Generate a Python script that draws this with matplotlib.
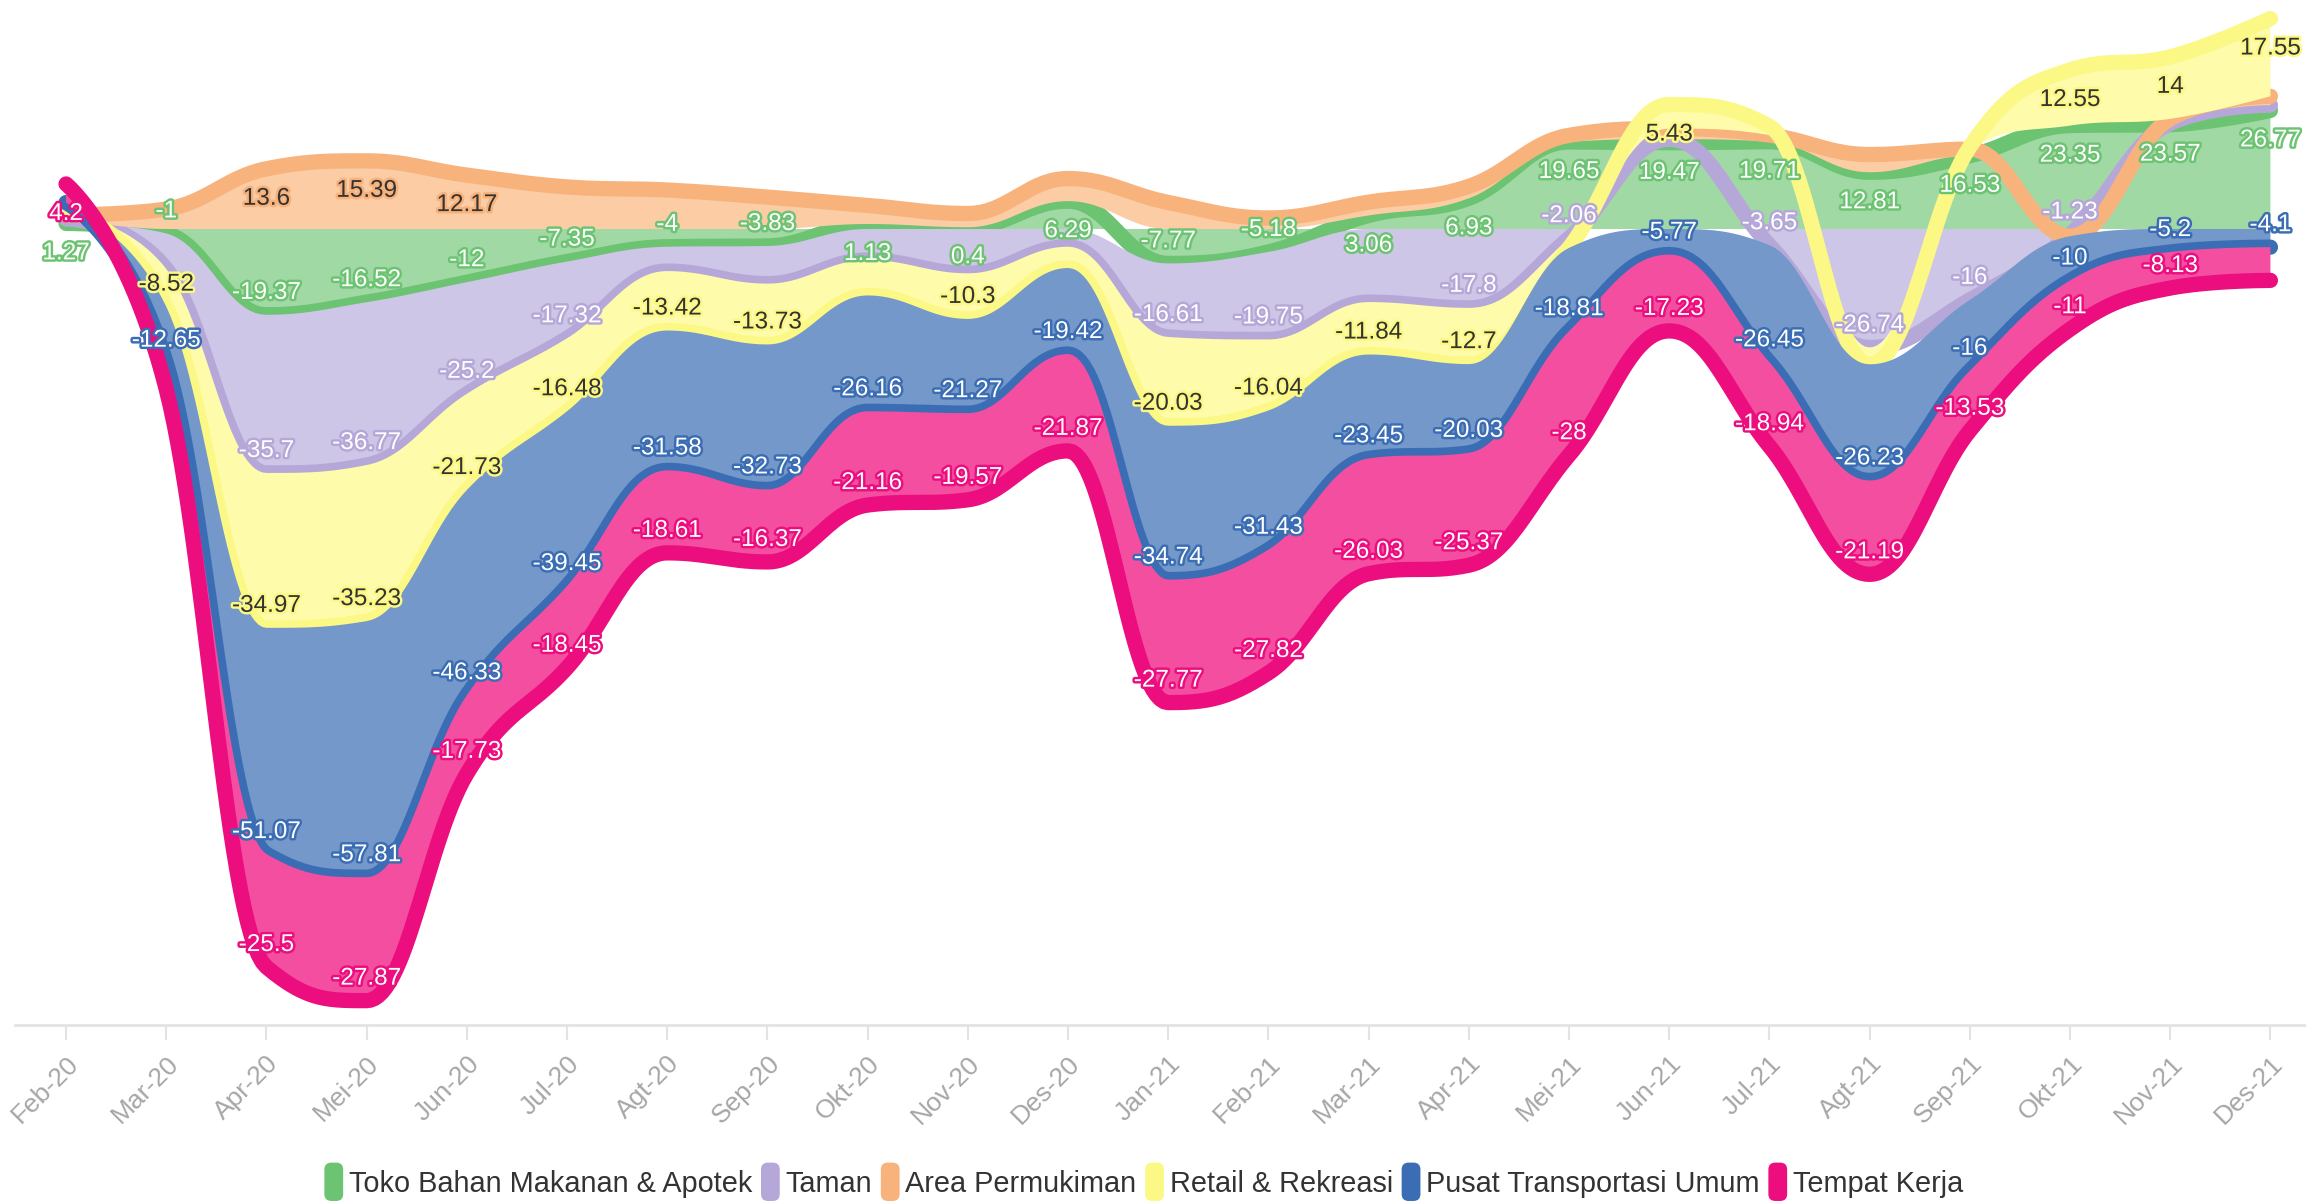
import matplotlib
matplotlib.use('Agg')
import matplotlib.pyplot as plt
import matplotlib.patheffects as pe
import numpy as np
from matplotlib.patches import FancyBboxPatch, Patch
from matplotlib.legend_handler import HandlerPatch

plt.rcParams['font.family'] = ['Liberation Sans Narrow', 'Liberation Sans', 'DejaVu Sans']

months = ['Feb-20', 'Mar-20', 'Apr-20', 'Mei-20', 'Jun-20', 'Jul-20', 'Agt-20', 'Sep-20',
          'Okt-20', 'Nov-20', 'Des-20', 'Jan-21', 'Feb-21', 'Mar-21', 'Apr-21', 'Mei-21',
          'Jun-21', 'Jul-21', 'Agt-21', 'Sep-21', 'Okt-21', 'Nov-21', 'Des-21']

toko = [1.27, -1, -19.37, -16.52, -12, -7.35, -4, -3.83, 1.13, 0.4, 6.29, -7.77,
        -5.18, 3.06, 6.93, 19.65, 19.47, 19.71, 12.81, 16.53, 23.35, 23.57, 26.77]
taman = [1.0, -8, -35.7, -36.77, -25.2, -17.32, -5.5, -8.5, -7, -10, -4, -16.61,
         -19.75, -16.5, -17.8, -2.06, 0.8, -3.65, -26.74, -16, -1.23, 0.3, 1.2]
permukiman = [0.9, 4.5, 13.6, 15.39, 12.17, 9.5, 8.8, 7.2, 4.2, 3.1, 5.1, 6,
              2.5, 3, 2.7, 1.5, 2.4, 1.5, 4, 1.5, -0.4, 1.0, 2.0]
retail = [1.2, -8.52, -34.97, -35.23, -21.73, -16.48, -13.42, -13.73, -8, -10.3, -4.8, -20.03,
          -16.04, -11.84, -12.7, -2.2, 5.43, 2, -3.8, 0.5, 12.55, 14, 17.55]
transportasi = [1.6, -12.65, -51.07, -57.81, -46.33, -39.45, -31.58, -32.73, -26.16, -21.27, -19.42, -34.74,
                -31.43, -23.45, -20.03, -18.81, -5.77, -26.45, -26.23, -16, -10, -5.2, -4.1]
kerja = [4.2, -6, -25.5, -27.87, -17.73, -18.45, -18.61, -16.37, -21.16, -19.57, -21.87, -27.77,
         -27.82, -26.03, -25.37, -28, -17.23, -18.94, -21.19, -13.53, -11, -8.13, -7.5]

names = ['Toko Bahan Makanan & Apotek', 'Taman', 'Area Permukiman', 'Retail & Rekreasi',
         'Pusat Transportasi Umum', 'Tempat Kerja']
series = [toko, taman, permukiman, retail, transportasi, kerja]
line_colors = ['#6cc372', '#b5a8d8', '#f8b27c', '#fcf885', '#3b6db4', '#ec0d7f']
fill_colors = ['#a1d9a4', '#cec6e6', '#fccca4', '#fefcab', '#7398c9', '#f44ea1']
text_colors = ['white', 'white', '#333333', '#333333', 'white', 'white']

# labels that the original chart hides (overlap)
hidden = [[], [0, 1, 6, 7, 8, 9, 10, 13, 16, 21, 22],
          [0, 1, 5, 6, 7, 8, 9, 10, 11, 12, 13, 14, 15, 16, 17, 18, 19, 20, 21, 22],
          [0, 8, 10, 15, 17, 18, 19], [0], [1, 22]]


def hc_spline(xs, ys, steps=30):
    n = len(xs)
    lc = [(xs[i], ys[i]) for i in range(n)]
    rc = [(xs[i], ys[i]) for i in range(n)]
    for i in range(1, n - 1):
        x, y = xs[i], ys[i]
        lx, ly, nx, ny = xs[i - 1], ys[i - 1], xs[i + 1], ys[i + 1]
        lcx, lcy = (1.5 * x + lx) / 2.5, (1.5 * y + ly) / 2.5
        rcx, rcy = (1.5 * x + nx) / 2.5, (1.5 * y + ny) / 2.5
        corr = ((rcy - lcy) * (rcx - x)) / (rcx - lcx) + y - rcy
        lcy += corr
        rcy += corr
        if lcy > ly and lcy > y:
            lcy = max(ly, y); rcy = 2 * y - lcy
        elif lcy < ly and lcy < y:
            lcy = min(ly, y); rcy = 2 * y - lcy
        if rcy > ny and rcy > y:
            rcy = max(ny, y); lcy = 2 * y - rcy
        elif rcy < ny and rcy < y:
            rcy = min(ny, y); lcy = 2 * y - rcy
        lc[i] = (lcx, lcy)
        rc[i] = (rcx, rcy)
    t = np.linspace(0, 1, steps)[1:]
    ox, oy = [xs[0]], [ys[0]]
    for i in range(1, n):
        p0, p1, p2, p3 = (xs[i - 1], ys[i - 1]), rc[i - 1], lc[i], (xs[i], ys[i])
        a, b, c, d = (1 - t) ** 3, 3 * (1 - t) ** 2 * t, 3 * (1 - t) * t ** 2, t ** 3
        ox.extend(a * p0[0] + b * p1[0] + c * p2[0] + d * p3[0])
        oy.extend(a * p0[1] + b * p1[1] + c * p2[1] + d * p3[1])
    return np.array(ox), np.array(oy)


class RoundHandler(HandlerPatch):
    def create_artists(self, legend, orig_handle, xdescent, ydescent, width, height, fontsize, trans):
        p = FancyBboxPatch((-xdescent, -ydescent - 0.3 * height), width, height * 1.6,
                           boxstyle='round,pad=0,rounding_size=5',
                           fc=orig_handle.get_facecolor(), ec='none', transform=trans)
        return [p]


fig = plt.figure(figsize=(23.06, 12.03), dpi=100)
ax = fig.add_axes([0, 178 / 1203, 1, 1025 / 1203])

x = np.arange(len(months))
pos = np.zeros(len(x))
neg = np.zeros(len(x))
tops = []
for k, vals in enumerate(series):
    v = np.array(vals, dtype=float)
    base = np.where(v >= 0, pos, neg)
    top = base + v
    pos = np.where(v >= 0, top, pos)
    neg = np.where(v < 0, top, neg)
    tops.append(top)
    tx, ty = hc_spline(x, top)
    bx, by = hc_spline(x, base)
    ax.fill(np.r_[tx, bx[::-1]], np.r_[ty, by[::-1]], color=fill_colors[k], lw=0, zorder=2 + 2 * k)
    ax.plot(tx, ty, color=line_colors[k], lw=11, solid_capstyle='round',
            solid_joinstyle='round', zorder=3 + 2 * k)

for k, vals in enumerate(series):
    for i, v in enumerate(vals):
        if i in hidden[k]:
            continue
        off = -30 if v >= 0 else 22
        ax.annotate(f'{v:g}', (i, tops[k][i]), xytext=(0, off), textcoords='offset pixels',
                    ha='center', va='center', fontsize=17.5, color=text_colors[k], zorder=30,
                    path_effects=[pe.withStroke(linewidth=3.5, foreground=line_colors[k])])

ax.set_xlim(-0.659, 22.355)
ax.set_ylim(-179.7, 51.7)
for s in ['top', 'left', 'right']:
    ax.spines[s].set_visible(False)
ax.spines['bottom'].set_color('#e3e3e3')
ax.spines['bottom'].set_linewidth(2)
ax.spines['bottom'].set_bounds(-0.51, 22.36)
ax.set_yticks([])
ax.set_xticks(x)
ax.set_xticklabels(months, rotation=45, ha='right', va='top', rotation_mode='anchor',
                   fontsize=19, color='#a6a6a6')
ax.tick_params(axis='x', length=11, width=1.5, color='#e3e3e3', pad=8)

handles = [Patch(facecolor=c, label=n) for c, n in zip(line_colors, names)]
fig.legend(handles=handles, loc='center', bbox_to_anchor=(0.496, 0.016), ncol=6, frameon=False,
           fontsize=20.8, handlelength=0.65, handleheight=0.9, handletextpad=0.2, columnspacing=0.3,
           handler_map={Patch: RoundHandler()}, labelcolor='#333333')

fig.savefig('out.png', dpi=100)
